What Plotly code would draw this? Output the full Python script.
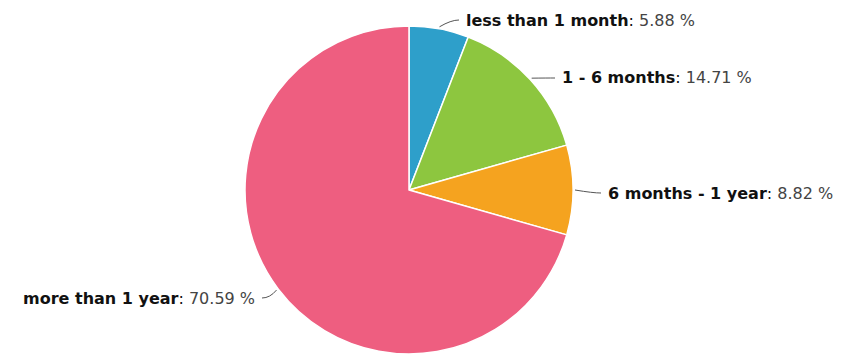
import math
import plotly.graph_objects as go

# Share of respondents by duration
categories = ["less than 1 month", "1 - 6 months", "6 months - 1 year", "more than 1 year"]
shares = [5.88, 14.71, 8.82, 70.59]
colors = ["#2E9FCA", "#8DC63F", "#F5A31F", "#EE5E80"]

W, H = 852, 354
cx, cy, r = 409, 190, 164  # pie centre and radius in pixels

# label text anchors (pixels) and side of the pie they sit on
label_pos = [(464, 20, "left"), (560, 78, "left"), (606, 193, "left"), (257, 298, "right")]

fig = go.Figure(go.Pie(
    labels=categories,
    values=shares,
    sort=False,
    direction="clockwise",
    rotation=0,
    marker=dict(colors=colors, line=dict(color="white", width=1.5)),
    textinfo="none",
    hoverinfo="label+percent",
    showlegend=False,
    domain=dict(x=[(cx - r) / W, (cx + r) / W], y=[1 - (cy + r) / H, 1 - (cy - r) / H]),
))

def px(x, y):
    return x / W, 1 - y / H

total = sum(shares)
cum = 0.0
shapes, annotations = [], []
for name, val, (lx, ly, side) in zip(categories, shares, label_pos):
    mid = (cum + val / 2) / total * 2 * math.pi
    cum += val
    ex = cx + (r + 2) * math.sin(mid)
    ey = cy - (r + 2) * math.cos(mid)
    end_x = lx - 5 if side == "left" else lx + 5
    bx = end_x - 8 if side == "left" else end_x + 8
    x0, y0 = px(ex, ey)
    x1, y1 = px(bx, ly)
    x2, y2 = px(end_x, ly)
    shapes.append(dict(type="path", xref="paper", yref="paper",
                       path=f"M {x0} {y0} Q {x1} {y1} {x2} {y2}",
                       line=dict(color="#555555", width=1)))
    ax, ay = px(lx, ly)
    annotations.append(dict(
        x=ax, y=ay, xref="paper", yref="paper", showarrow=False,
        xanchor=side, yanchor="middle",
        text=f"<b>{name}</b>: <span style='color:#444444'>{val:.2f} %</span>",
        font=dict(family="DejaVu Sans", size=16, color="#111111"),
    ))

fig.update_layout(
    width=W, height=H,
    margin=dict(l=0, r=0, t=0, b=0),
    paper_bgcolor="white", plot_bgcolor="white",
    shapes=shapes, annotations=annotations,
)
fig.write_html("out.html")
